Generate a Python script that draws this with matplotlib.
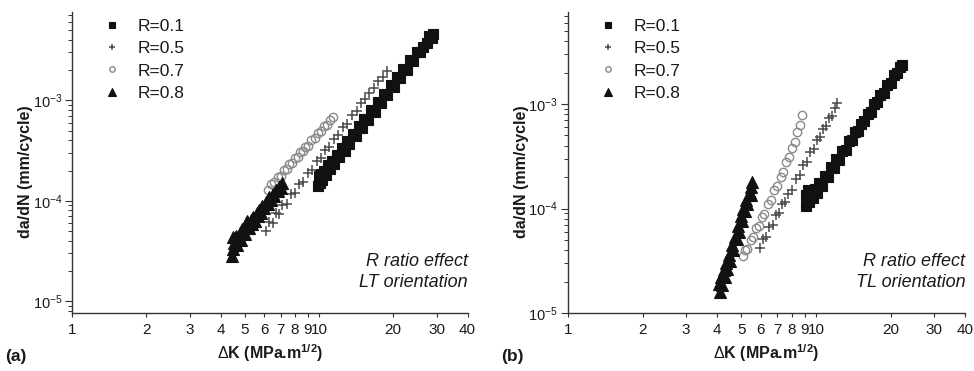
import matplotlib
matplotlib.use("Agg")
import matplotlib.pyplot as plt
from matplotlib.ticker import FixedLocator, FixedFormatter, LogLocator, NullFormatter

plt.rcParams['font.family'] = ['Liberation Sans', 'DejaVu Sans']
plt.rcParams['mathtext.fontset'] = 'custom'
plt.rcParams['mathtext.rm'] = 'Liberation Sans'
plt.rcParams['mathtext.it'] = 'Liberation Sans:italic'
plt.rcParams['mathtext.bf'] = 'Liberation Sans:bold'

# ---------------- data: panel (a) LT orientation ----------------
a_r01_K = [9.9, 10.0, 10.1, 10.2, 10.3, 10.5, 10.7, 10.9, 11.1, 11.3, 11.5, 11.8, 12.1, 12.4,
           12.7, 13.0, 13.3, 13.7, 14.1, 14.5, 14.9, 15.3, 15.8, 16.3, 16.8, 17.3, 17.8, 18.3,
           18.9, 19.5, 20.1, 20.7, 21.3, 22.0, 22.7, 23.4, 24.1, 24.9, 25.7, 26.5, 27.3, 28.0,
           28.6, 29.0]
a_r01_v = [1.40e-4, 1.75e-4, 1.50e-4, 1.85e-4, 1.62e-4, 2.00e-4, 1.82e-4, 2.25e-4, 2.05e-4,
           2.50e-4, 2.30e-4, 2.85e-4, 2.70e-4, 3.35e-4, 3.15e-4, 3.90e-4, 3.65e-4, 4.60e-4,
           4.40e-4, 5.50e-4, 5.25e-4, 6.50e-4, 6.30e-4, 7.95e-4, 7.70e-4, 9.60e-4, 9.30e-4,
           1.15e-3, 1.12e-3, 1.41e-3, 1.37e-3, 1.70e-3, 1.65e-3, 2.06e-3, 2.02e-3, 2.52e-3,
           2.45e-3, 3.05e-3, 3.00e-3, 3.40e-3, 3.70e-3, 4.40e-3, 4.20e-3, 4.55e-3]

a_r05_K = [6.1, 6.3, 6.5, 6.7, 6.9, 7.1, 7.4, 7.7, 8.0, 8.3, 8.6, 9.0, 9.4, 9.8, 10.2, 10.6,
           11.0, 11.5, 12.0, 12.5, 13.0, 13.6, 14.2, 14.8, 15.4, 16.0, 16.7, 17.4, 18.1, 18.8]
a_r05_v = [5.0e-5, 6.2e-5, 6.0e-5, 7.5e-5, 7.4e-5, 9.0e-5, 9.3e-5, 1.16e-4, 1.20e-4, 1.48e-4,
           1.52e-4, 1.90e-4, 2.02e-4, 2.50e-4, 2.65e-4, 3.20e-4, 3.40e-4, 4.15e-4, 4.50e-4,
           5.45e-4, 5.85e-4, 7.10e-4, 7.80e-4, 9.30e-4, 1.02e-3, 1.19e-3, 1.32e-3, 1.56e-3,
           1.72e-3, 1.98e-3]

a_r07_K = [6.2, 6.4, 6.6, 6.8, 7.0, 7.2, 7.4, 7.6, 7.8, 8.0, 8.2, 8.4, 8.6, 8.8, 9.0, 9.3,
           9.6, 9.9, 10.2, 10.5, 10.8, 11.1, 11.4]
a_r07_v = [1.28e-4, 1.48e-4, 1.52e-4, 1.74e-4, 1.78e-4, 2.02e-4, 2.06e-4, 2.34e-4, 2.38e-4,
           2.68e-4, 2.72e-4, 3.05e-4, 3.10e-4, 3.45e-4, 3.50e-4, 3.98e-4, 4.18e-4, 4.70e-4,
           4.92e-4, 5.50e-4, 5.72e-4, 6.40e-4, 6.75e-4]

a_r08_K = [4.45, 4.5, 4.5, 4.55, 4.6, 4.65, 4.7, 4.8, 4.85, 4.9, 5.0, 5.05, 5.1, 5.2, 5.3,
           5.35, 5.4, 5.5, 5.6, 5.65, 5.7, 5.8, 5.9, 6.0, 6.1, 6.2, 6.3, 6.4, 6.5, 6.6, 6.7,
           6.8, 6.9, 7.0, 7.1]
a_r08_v = [2.8e-5, 3.3e-5, 4.4e-5, 3.8e-5, 4.5e-5, 3.6e-5, 4.3e-5, 4.8e-5, 4.1e-5, 5.2e-5,
           4.7e-5, 5.6e-5, 6.3e-5, 5.4e-5, 6.5e-5, 5.8e-5, 6.9e-5, 6.3e-5, 7.6e-5, 7.0e-5,
           8.0e-5, 7.5e-5, 8.9e-5, 8.4e-5, 9.8e-5, 9.3e-5, 1.08e-4, 1.02e-4, 1.18e-4, 1.12e-4,
           1.28e-4, 1.24e-4, 1.38e-4, 1.35e-4, 1.50e-4]

# ---------------- data: panel (b) TL orientation ----------------
b_r01_K = [9.1, 9.1, 9.2, 9.3, 9.4, 9.5, 9.7, 9.9, 10.1, 10.3, 10.6, 10.9, 11.2, 11.5, 11.8,
           12.1, 12.4, 12.8, 13.2, 13.6, 14.0, 14.4, 14.8, 15.2, 15.7, 16.2, 16.7, 17.2, 17.7,
           18.2, 18.8, 19.4, 20.0, 20.6, 21.2, 21.8, 22.2]
b_r01_v = [1.05e-4, 1.35e-4, 1.20e-4, 1.50e-4, 1.15e-4, 1.40e-4, 1.25e-4, 1.55e-4, 1.42e-4,
           1.75e-4, 1.65e-4, 2.05e-4, 2.02e-4, 2.48e-4, 2.45e-4, 2.95e-4, 2.92e-4, 3.55e-4,
           3.65e-4, 4.40e-4, 4.50e-4, 5.35e-4, 5.50e-4, 6.45e-4, 6.80e-4, 8.05e-4, 8.45e-4,
           9.95e-4, 1.04e-3, 1.21e-3, 1.28e-3, 1.52e-3, 1.60e-3, 1.88e-3, 1.96e-3, 2.28e-3,
           2.38e-3]

b_r05_K = [5.95, 6.1, 6.3, 6.5, 6.7, 6.9, 7.1, 7.3, 7.5, 7.7, 8.0, 8.3, 8.6, 8.9, 9.2, 9.5,
           9.8, 10.1, 10.4, 10.7, 11.0, 11.3, 11.6, 11.9, 12.2]
b_r05_v = [4.2e-5, 5.1e-5, 5.3e-5, 6.7e-5, 7.0e-5, 8.7e-5, 9.0e-5, 1.10e-4, 1.15e-4, 1.39e-4,
           1.52e-4, 1.93e-4, 2.10e-4, 2.60e-4, 2.80e-4, 3.45e-4, 3.70e-4, 4.50e-4, 4.80e-4,
           5.80e-4, 6.10e-4, 7.35e-4, 7.70e-4, 9.20e-4, 1.02e-3]

b_r07_K = [5.1, 5.2, 5.3, 5.45, 5.6, 5.75, 5.9, 6.05, 6.2, 6.4, 6.6, 6.8, 7.0, 7.2, 7.4, 7.6,
           7.8, 8.0, 8.2, 8.4, 8.6, 8.8]
b_r07_v = [3.5e-5, 4.0e-5, 4.1e-5, 5.0e-5, 5.3e-5, 6.5e-5, 6.8e-5, 8.3e-5, 8.8e-5, 1.10e-4,
           1.21e-4, 1.50e-4, 1.64e-4, 2.00e-4, 2.25e-4, 2.78e-4, 3.08e-4, 3.78e-4, 4.30e-4,
           5.45e-4, 6.35e-4, 7.90e-4]

b_r08_K = [4.05, 4.1, 4.15, 4.2, 4.25, 4.3, 4.35, 4.4, 4.45, 4.5, 4.6, 4.65, 4.7, 4.8, 4.85,
           4.9, 5.0, 5.05, 5.1, 5.2, 5.25, 5.3, 5.4, 5.45, 5.5, 5.55]
b_r08_v = [1.9e-5, 1.6e-5, 2.2e-5, 1.85e-5, 2.6e-5, 2.2e-5, 3.0e-5, 2.65e-5, 3.6e-5, 3.15e-5,
           4.5e-5, 4.0e-5, 5.3e-5, 5.1e-5, 6.8e-5, 6.0e-5, 8.4e-5, 7.6e-5, 9.8e-5, 9.5e-5,
           1.20e-4, 1.10e-4, 1.42e-4, 1.35e-4, 1.62e-4, 1.78e-4]

labels = ['R=0.1', 'R=0.5', 'R=0.7', 'R=0.8']
x_ticks = [1, 2, 3, 4, 5, 6, 7, 8, 9, 10, 20, 30, 40]
x_tick_labels = ['1', '2', '3', '4', '5', '6', '7', '8', '9', '10', '20', '30', '40']
y_major = [1e-5, 1e-4, 1e-3]
y_major_labels = [r'$10^{-5}$', r'$10^{-4}$', r'$10^{-3}$']

panels = [
    dict(rect=[0.074, 0.156, 0.406, 0.812], ylim=(7.6e-6, 7.6e-3),
         series=[(a_r01_K, a_r01_v), (a_r05_K, a_r05_v), (a_r07_K, a_r07_v), (a_r08_K, a_r08_v)],
         note='R ratio effect\nLT orientation', tag='(a)', tagx=0.005),
    dict(rect=[0.583, 0.156, 0.408, 0.812], ylim=(1e-5, 7.6e-3),
         series=[(b_r01_K, b_r01_v), (b_r05_K, b_r05_v), (b_r07_K, b_r07_v), (b_r08_K, b_r08_v)],
         note='R ratio effect\nTL orientation', tag='(b)', tagx=0.515),
]

styles = [
    dict(marker='s', ms=7.0, mfc='#111111', mec='#111111', mew=0.8),
    dict(marker='+', ms=7.0, mfc='none', mec='#4a4a4a', mew=1.1),
    dict(marker='o', ms=6.0, mfc='none', mec='#8a8a8a', mew=1.0),
    dict(marker='^', ms=8.0, mfc='#111111', mec='#111111', mew=0.8),
]
draw_order = [2, 1, 0, 3]

fig = plt.figure(figsize=(9.74, 3.71), dpi=100)
txt = '#1a1a1a'

for p in panels:
    ax = fig.add_axes(p['rect'])
    handles = [None] * 4
    for i in draw_order:
        K, v = p['series'][i]
        h, = ax.plot(K, v, linestyle='none', label=labels[i], zorder=3 + (i in (0, 3)), **styles[i])
        handles[i] = h
    ax.set_xscale('log')
    ax.set_yscale('log')
    ax.set_xlim(1, 40)
    ax.set_ylim(*p['ylim'])
    for s in ('top', 'right'):
        ax.spines[s].set_visible(False)
    for s in ('left', 'bottom'):
        ax.spines[s].set_linewidth(1.0)
        ax.spines[s].set_color('#333333')
    ax.xaxis.set_major_locator(FixedLocator(x_ticks))
    ax.xaxis.set_major_formatter(FixedFormatter(x_tick_labels))
    ax.xaxis.set_minor_locator(FixedLocator([]))
    ax.yaxis.set_major_locator(FixedLocator(y_major))
    ax.yaxis.set_major_formatter(FixedFormatter(y_major_labels))
    ax.yaxis.set_minor_locator(LogLocator(base=10, subs=range(2, 10)))
    ax.yaxis.set_minor_formatter(NullFormatter())
    ax.tick_params(axis='x', which='major', length=3, width=0.8, labelsize=11,
                   colors='#333333', labelcolor=txt, pad=4)
    ax.tick_params(axis='y', which='major', length=5, width=0.8, labelsize=10.5,
                   colors='#333333', labelcolor=txt, pad=2)
    ax.tick_params(axis='y', which='minor', length=3, width=0.7, colors='#333333')
    ax.set_ylabel('da/dN (mm/cycle)', fontsize=11.5, fontweight='bold', color=txt, labelpad=2)
    ax.yaxis.set_label_coords(-0.098, 0.47)
    ax.set_xlabel(r'$\Delta$K (MPa.m$^{\mathbf{1/2}}$)', fontsize=11.5, fontweight='bold',
                  color=txt, labelpad=4)
    leg = ax.legend(handles=handles, labels=labels, loc='upper left',
                    bbox_to_anchor=(0.079, 0.978), frameon=False, fontsize=12.5,
                    handlelength=1.0, handletextpad=1.0, labelspacing=0.42,
                    borderpad=0, borderaxespad=0, markerscale=0.65)
    for t in leg.get_texts():
        t.set_color(txt)
    ax.text(1.0, 0.137, p['note'], transform=ax.transAxes, ha='right', va='center',
            fontsize=13, style='italic', color=txt, linespacing=1.35)
    fig.text(p['tagx'], 0.04, p['tag'], fontsize=12.5, fontweight='bold', color=txt,
             ha='left', va='center')

fig.savefig('out.png', dpi=100)
